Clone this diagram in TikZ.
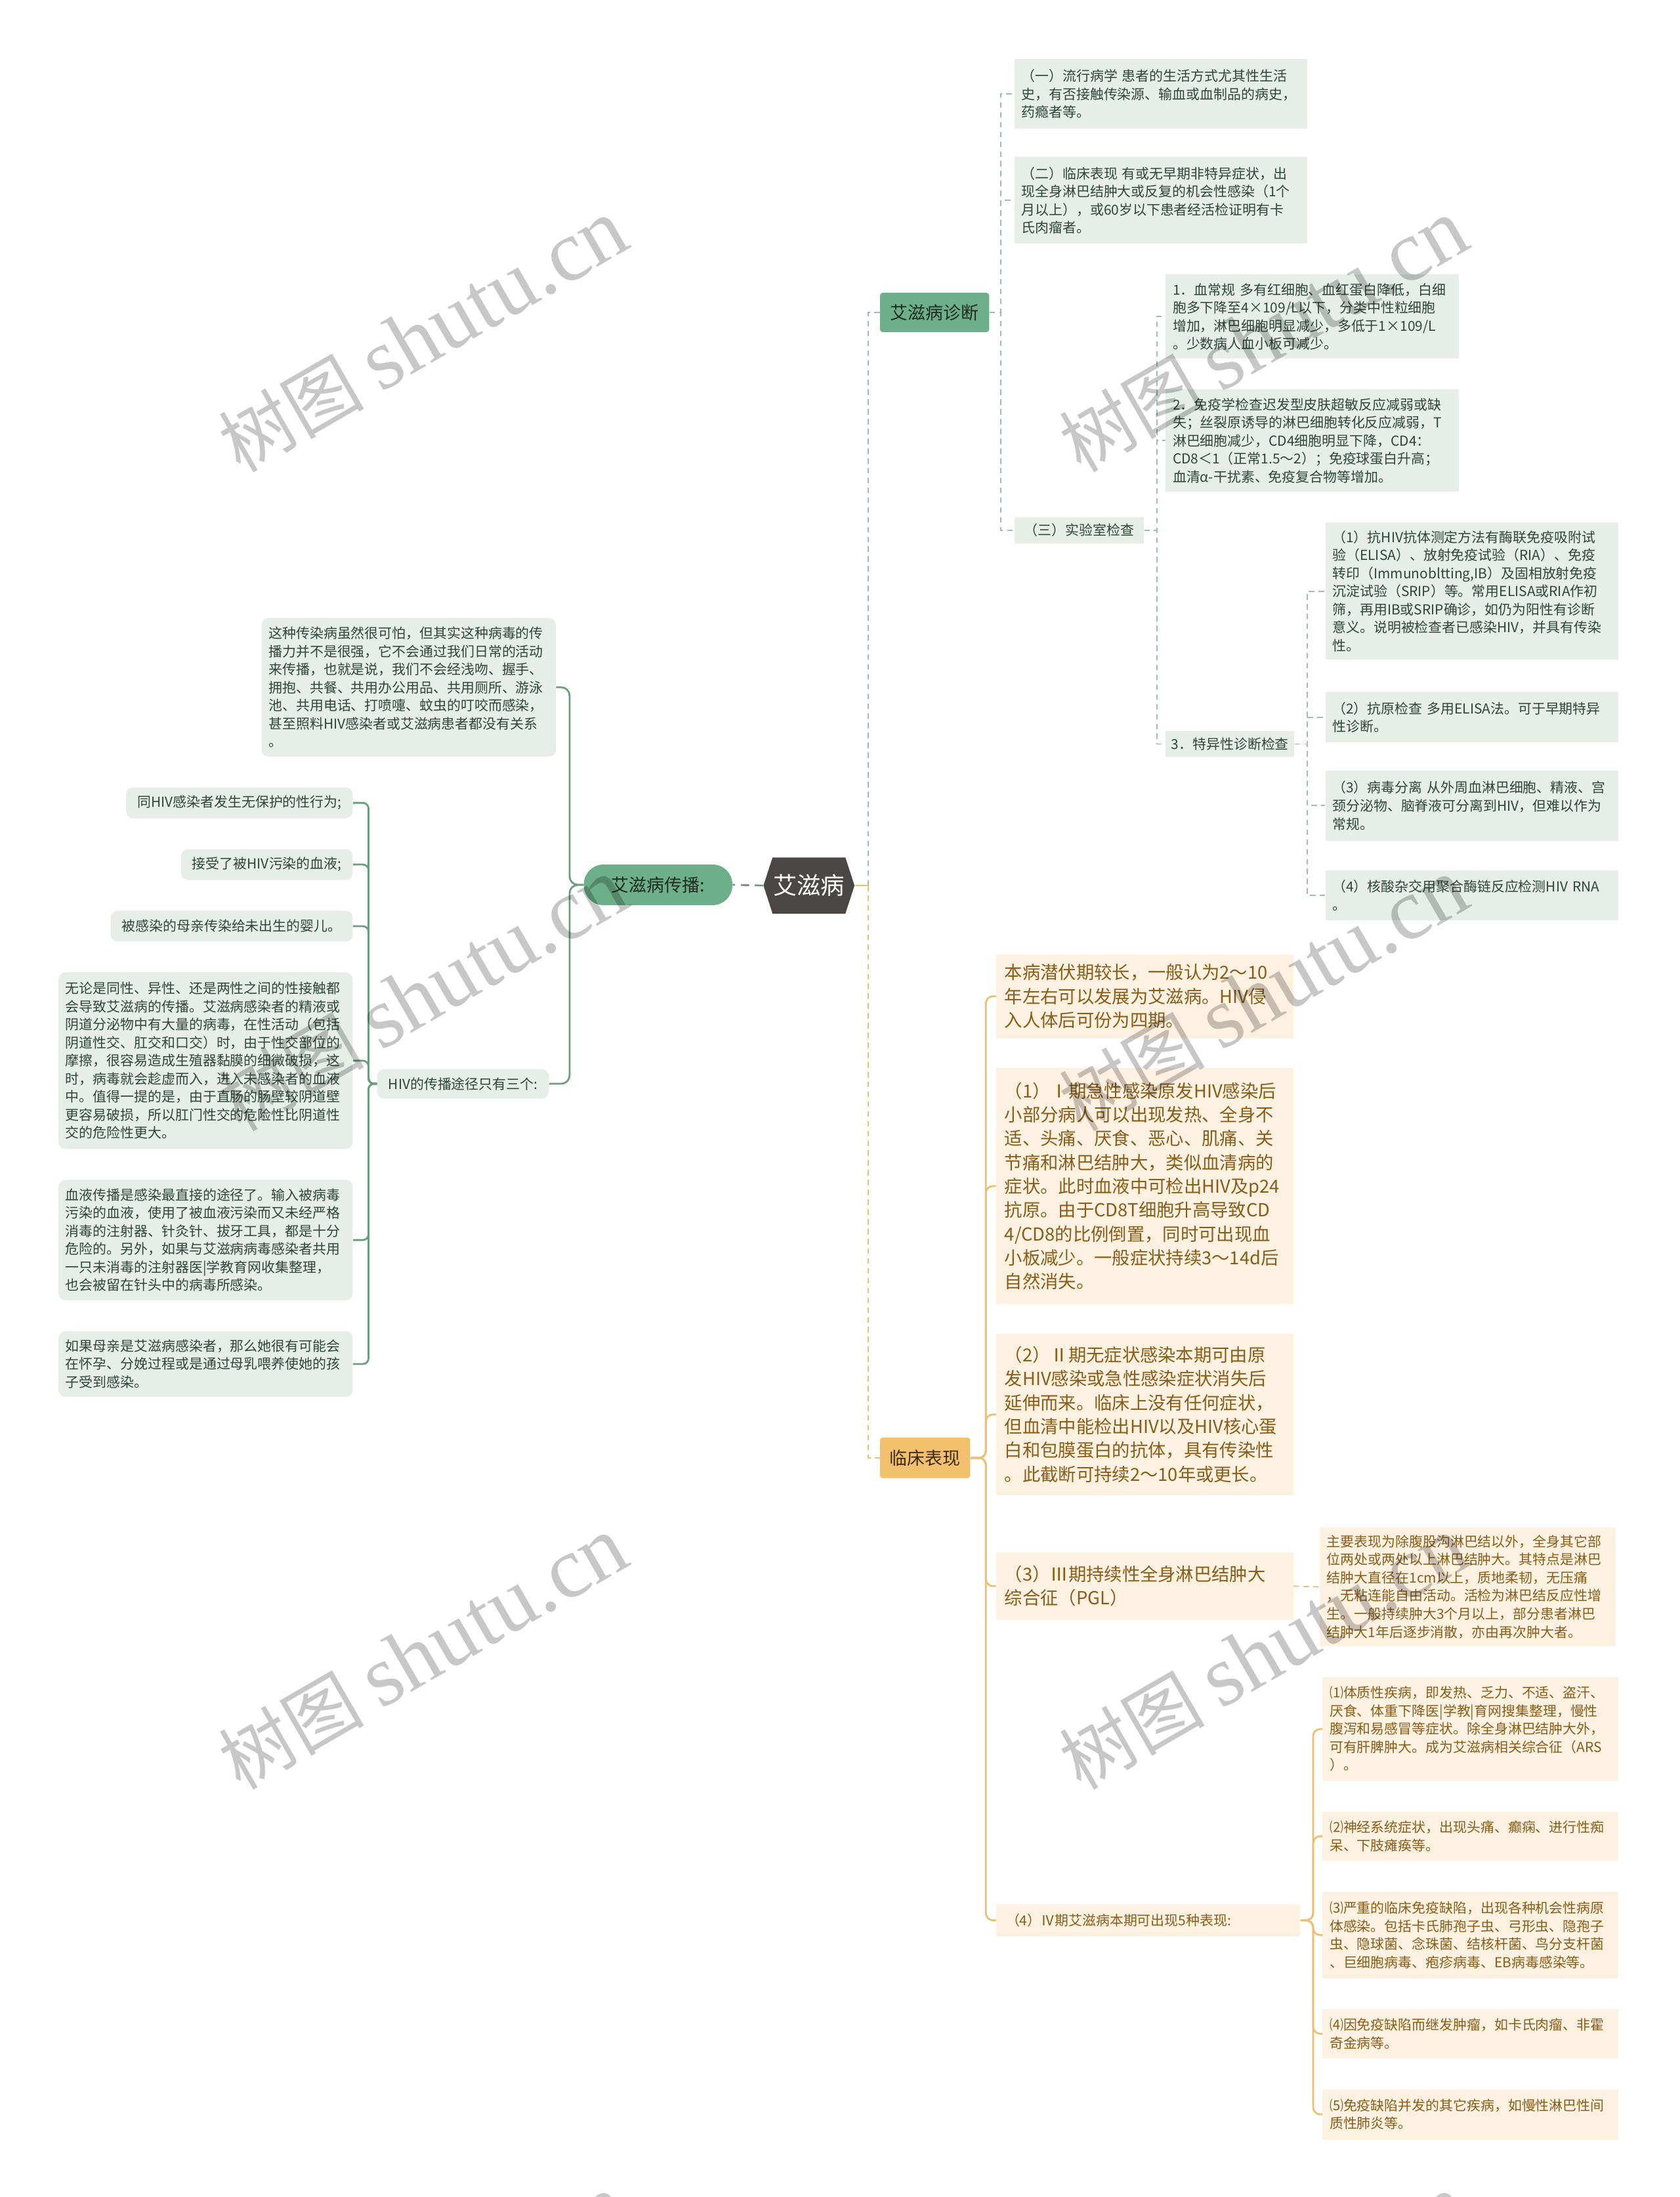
\documentclass[tikz,border=0pt]{standalone}
\usepackage{fontspec}
\setmainfont{Noto Sans CJK SC}
\newfontfamily\wmlatin{Liberation Serif}
\usetikzlibrary{positioning,shapes.symbols}

\definecolor{corefill}{HTML}{4B4747}
\definecolor{greenmain}{HTML}{6DAF88}
\definecolor{greendark}{HTML}{1F2A23}
\definecolor{greenbox}{HTML}{E6EEE7}
\definecolor{greentext}{HTML}{2F4538}
\definecolor{greenline}{HTML}{6A9E7C}
\definecolor{greendash}{HTML}{A3BBAC}
\definecolor{orangemain}{HTML}{F3C06E}
\definecolor{orangedark}{HTML}{3E2A08}
\definecolor{orangebox}{HTML}{FDF1E1}
\definecolor{orangetext}{HTML}{8A5C17}
\definecolor{orangeline}{HTML}{EDBF73}

\begin{document}
\begin{tikzpicture}[x=1pt, y=-1pt,
  small/.style={font=\fontsize{9.8pt}{12.9pt}\selectfont},
  large/.style={font=\fontsize{12.8pt}{17pt}\selectfont},
  gbox/.style={small, fill=greenbox, text=greentext, align=left, text width=199pt,
               inner xsep=5pt, inner ysep=2pt},
  lbox/.style={gbox, rounded corners=5pt, text width=200pt},
  glabel/.style={small, fill=greenbox, text=greentext, inner xsep=7pt, inner ysep=2pt,
                 minimum height=19pt},
  llabel/.style={glabel, inner xsep=8pt, minimum height=22pt, rounded corners=5pt},
  gmain/.style={fill=greenmain, text=greendark, font=\fontsize{12.6pt}{12.6pt}\selectfont,
                minimum height=28pt, inner xsep=7pt, rounded corners=2pt},
  omain/.style={gmain, fill=orangemain, text=orangedark},
  obox/.style={small, fill=orangebox, text=orangetext, align=left, text width=201pt,
               inner xsep=5pt, inner ysep=2pt},
  bigbox/.style={large, fill=orangebox, text=orangetext, align=left, text width=200pt,
                 inner xsep=6pt, inner ysep=2pt},
  olabel/.style={obox, minimum height=23pt, text width=203pt, inner xsep=7pt},
  solidlink/.style={draw=greenline, line width=1.3pt, rounded corners=6pt},
  routelink/.style={solidlink, rounded corners=4pt},
  dashlink/.style={draw=greendash, line width=0.9pt, dash pattern=on 4pt off 3pt},
  olink/.style={draw=orangeline, line width=1.3pt, rounded corners=5pt},
  odash/.style={draw=orangeline, line width=0.9pt, dash pattern=on 4pt off 3pt},
  wmark/.style={text=black, text opacity=0.22, rotate=30, inner sep=0pt,
                font=\fontsize{52pt}{52pt}\selectfont}
]
  \fill[white] (0,0) rectangle (1199,1568);
  \useasboundingbox (0,0) rectangle (1199,1568);

  % centre
  \node[signal, signal to=west and east, signal pointer angle=144, fill=corefill, text=white,
        font=\fontsize{17pt}{17pt}\selectfont, minimum height=40pt, inner xsep=0.5pt,
        inner ysep=0pt] (aids) at (577.5,632) {艾滋病};
  \coordinate (fork) at (620,632);

  % left branch: transmission
  \node[gmain, anchor=east, rounded corners=14pt, minimum width=106pt, minimum height=29pt]
       (spread) at (523,631.5) {艾滋病传播:};
  \node[lbox, anchor=east, minimum height=99pt] (myth) at (397,490.5)
       {这种传染病虽然很可怕，但其实这种病毒的传\\播力并不是很强，它不会通过我们日常的活动\\来传播，也就是说，我们不会经浅吻、握手、\\拥抱、共餐、共用办公用品、共用厕所、游泳\\池、共用电话、打喷嚏、蚊虫的叮咬而感染，\\甚至照料HIV感染者或艾滋病患者都没有关系\\。};
  \node[llabel, anchor=east, minimum height=21pt] (route) at (392,773.5) {HIV的传播途径只有三个:};
  \node[llabel, anchor=east] (sex) at (252,573) {同HIV感染者发生无保护的性行为;};
  \node[llabel, anchor=east] (trans) at (252,617) {接受了被HIV污染的血液;};
  \node[llabel, anchor=east] (mom) at (252,661) {被感染的母亲传染给未出生的婴儿。};
  \node[lbox, anchor=east, minimum height=126pt] (sexd) at (252,757)
       {无论是同性、异性、还是两性之间的性接触都\\会导致艾滋病的传播。艾滋病感染者的精液或\\阴道分泌物中有大量的病毒，在性活动（包括\\阴道性交、肛交和口交）时，由于性交部位的\\摩擦，很容易造成生殖器黏膜的细微破损，这\\时，病毒就会趁虚而入，进入未感染者的血液\\中。值得一提的是，由于直肠的肠壁较阴道壁\\更容易破损，所以肛门性交的危险性比阴道性\\交的危险性更大。};
  \node[lbox, anchor=east, minimum height=86pt] (bloodd) at (252,885)
       {血液传播是感染最直接的途径了。输入被病毒\\污染的血液，使用了被血液污染而又未经严格\\消毒的注射器、针灸针、拔牙工具，都是十分\\危险的。另外，如果与艾滋病病毒感染者共用\\一只未消毒的注射器医|学教育网收集整理，\\也会被留在针头中的病毒所感染。};
  \node[lbox, anchor=east, minimum height=47pt] (momd) at (252,973.5)
       {如果母亲是艾滋病感染者，那么她很有可能会\\在怀孕、分娩过程或是通过母乳喂养使她的孩\\子受到感染。};

  % right branch: diagnosis
  \node[gmain, anchor=west, minimum width=78pt] (diag) at (628,223) {艾滋病诊断};
  \node[gbox, anchor=west, minimum height=50pt] (epi) at (724,67)
       {（一）流行病学 患者的生活方式尤其性生活\\史，有否接触传染源、输血或血制品的病史，\\药瘾者等。};
  \node[gbox, anchor=west, minimum height=62pt] (clin) at (724,143)
       {（二）临床表现 有或无早期非特异症状，出\\现全身淋巴结肿大或反复的机会性感染（1个\\月以上），或60岁以下患者经活检证明有卡\\氏肉瘤者。};
  \node[glabel, anchor=west] (lab) at (724,378.5) {（三）实验室检查};
  \node[gbox, anchor=west, minimum height=60pt] (blood) at (832,226)
       {1．血常规 多有红细胞、血红蛋白降低，白细\\胞多下降至4×109/L以下，分类中性粒细胞\\增加，淋巴细胞明显减少，多低于1×109/L\\。少数病人血小板可减少。};
  \node[gbox, anchor=west, minimum height=73pt] (immu) at (832,314.5)
       {2．免疫学检查迟发型皮肤超敏反应减弱或缺\\失；丝裂原诱导的淋巴细胞转化反应减弱，T\\淋巴细胞减少，CD4细胞明显下降，CD4：\\CD8＜1（正常1.5～2）；免疫球蛋白升高；\\血清α-干扰素、免疫复合物等增加。};
  \node[glabel, anchor=west, minimum height=18pt, inner xsep=4pt] (spec) at (832,531) {3．特异性诊断检查};
  \node[gbox, anchor=west, minimum height=98pt] (anti) at (946,422)
       {（1）抗HIV抗体测定方法有酶联免疫吸附试\\验（ELISA）、放射免疫试验（RIA）、免疫\\转印（Immunobltting,IB）及固相放射免疫\\沉淀试验（SRIP）等。常用ELISA或RIA作初\\筛，再用IB或SRIP确诊，如仍为阳性有诊断\\意义。说明被检查者已感染HIV，并具有传染\\性。};
  \node[gbox, anchor=west, minimum height=36pt] (antigen) at (946,512)
       {（2）抗原检查 多用ELISA法。可于早期特异\\性诊断。};
  \node[gbox, anchor=west, minimum height=50pt] (virus) at (946,575)
       {（3）病毒分离 从外周血淋巴细胞、精液、宫\\颈分泌物、脑脊液可分离到HIV，但难以作为\\常规。};
  \node[gbox, anchor=west, minimum height=36pt] (rna) at (946,639)
       {（4）核酸杂交用聚合酶链反应检测HIV RNA\\。};

  % right branch: clinical course
  \node[omain, anchor=west, minimum width=64pt, minimum height=29pt] (clinic) at (628,1040.5) {临床表现};
  \node[bigbox, anchor=west, minimum height=60pt] (latent) at (711,711)
       {本病潜伏期较长，一般认为2～10\\年左右可以发展为艾滋病。HIV侵\\入人体后可份为四期。};
  \node[bigbox, anchor=west, minimum height=169pt] (st1) at (711,846.5)
       {（1）Ⅰ期急性感染原发HIV感染后\\小部分病人可以出现发热、全身不\\适、头痛、厌食、恶心、肌痛、关\\节痛和淋巴结肿大，类似血清病的\\症状。此时血液中可检出HIV及p24\\抗原。由于CD8T细胞升高导致CD\\4/CD8的比例倒置，同时可出现血\\小板减少。一般症状持续3～14d后\\自然消失。};
  \node[bigbox, anchor=west, minimum height=115pt] (st2) at (711,1009.5)
       {（2）Ⅱ期无症状感染本期可由原\\发HIV感染或急性感染症状消失后\\延伸而来。临床上没有任何症状，\\但血清中能检出HIV以及HIV核心蛋\\白和包膜蛋白的抗体，具有传染性\\。此截断可持续2～10年或更长。};
  \node[bigbox, anchor=west, minimum height=48pt] (st3) at (711,1132)
       {（3）Ⅲ期持续性全身淋巴结肿大\\综合征（PGL）};
  \node[olabel, anchor=west] (st4) at (711,1370.5) {（4）Ⅳ期艾滋病本期可出现5种表现:};
  \node[obox, anchor=west, minimum height=85pt] (pgl) at (942,1132.5)
       {主要表现为除腹股沟淋巴结以外，全身其它部\\位两处或两处以上淋巴结肿大。其特点是淋巴\\结肿大直径在1cm以上，质地柔韧，无压痛\\，无粘连能自由活动。活检为淋巴结反应性增\\生。一般持续肿大3个月以上，部分患者淋巴\\结肿大1年后逐步消散，亦由再次肿大者。};
  \node[obox, anchor=west, minimum height=74pt] (ivone) at (944,1234)
       {⑴体质性疾病，即发热、乏力、不适、盗汗、\\厌食、体重下降医|学教|育网搜集整理，慢性\\腹泻和易感冒等症状。除全身淋巴结肿大外，\\可有肝脾肿大。成为艾滋病相关综合征（ARS\\）。};
  \node[obox, anchor=west, minimum height=35pt] (ivtwo) at (944,1310.5)
       {⑵神经系统症状，出现头痛、癫痫、进行性痴\\呆、下肢瘫痪等。};
  \node[obox, anchor=west, minimum height=62pt] (ivthree) at (944,1381)
       {⑶严重的临床免疫缺陷，出现各种机会性病原\\体感染。包括卡氏肺孢子虫、弓形虫、隐孢子\\虫、隐球菌、念珠菌、结核杆菌、鸟分支杆菌\\、巨细胞病毒、疱疹病毒、EB病毒感染等。};
  \node[obox, anchor=west, minimum height=35pt] (ivfour) at (944,1451.5)
       {⑷因免疫缺陷而继发肿瘤，如卡氏肉瘤、非霍\\奇金病等。};
  \node[obox, anchor=west, minimum height=36pt] (ivfive) at (944,1509)
       {⑸免疫缺陷并发的其它疾病，如慢性淋巴性间\\质性肺炎等。};

  % connectors
  \draw[solidlink, dash pattern=on 6pt off 4pt] (aids.west) -- (spread.east);
  \foreach \c in {myth,route}
    \draw[solidlink] (spread.west) -- ++(-10,0) |- (\c.east);
  \foreach \c in {sex,trans,mom,sexd,bloodd,momd}
    \draw[routelink] (route.west) -- ++(-6,0) |- (\c.east);

  \draw[olink] (aids.east) -- (fork);
  \draw[dashlink] (fork) |- (diag.west);
  \foreach \c in {epi,clin,lab}
    \draw[dashlink] (diag.east) -- ++(8,0) |- (\c.west);
  \foreach \c in {blood,immu,spec}
    \draw[dashlink] (lab.east) -- ++(9,0) |- (\c.west);
  \foreach \c in {anti,antigen,virus,rna}
    \draw[dashlink] (spec.east) -- ++(9,0) |- (\c.west);

  \draw[odash] (fork) |- (clinic.west);
  \foreach \c in {latent,st1,st2,st3,st4}
    \draw[olink] (clinic.east) -- ++(11,0) |- (\c.west);
  \draw[odash] (st3.east) -- (pgl.west);
  \foreach \c in {ivone,ivtwo,ivthree,ivfour,ivfive}
    \draw[olink] (st4.east) -- ++(9,0) |- (\c.west);

  % watermark
  \begin{scope}
    \clip (0,0) rectangle (1199,1568);
    \foreach \wx/\wy in {302/240,902/240,302/710,902/710,302/1180,902/1180,302/1650,902/1650}
      \node[wmark] (wm-\wx-\wy) at (\wx,\wy) {树图 {\wmlatin\fontsize{62pt}{62pt}\selectfont shutu.cn}};
  \end{scope}
\end{tikzpicture}
\end{document}
